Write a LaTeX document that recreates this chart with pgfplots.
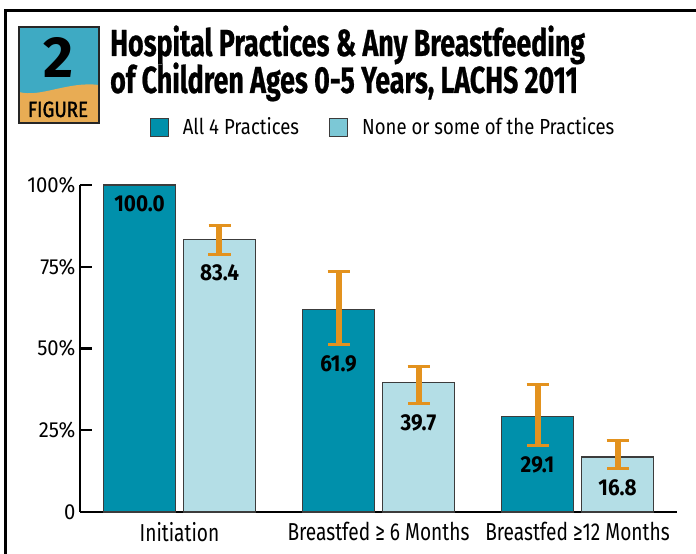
\documentclass[border=0pt]{standalone}
\usepackage{pgfplots}
\pgfplotsset{compat=1.18}
\usepackage{pgfplotstable}
\usepackage{fontspec}
\setmainfont{Fira Sans}[FakeStretch=0.78]
\newfontfamily\titlefont{Fira Sans}[FakeStretch=0.71]
\newfontfamily\legfont{Fira Sans}[FakeStretch=0.85]
\newfontfamily\tickfont{Fira Sans}[FakeStretch=0.93]
\newfontfamily\valfont{Fira Sans}[FakeStretch=0.9]
\newfontfamily\plainfont{Fira Sans}
\definecolor{darkbar}{RGB}{0,144,171}
\definecolor{lightbar}{RGB}{180,222,230}
\definecolor{leglight}{RGB}{124,200,214}
\definecolor{errc}{RGB}{227,146,30}
\definecolor{badgeteal}{RGB}{62,170,195}
\definecolor{badgeorange}{RGB}{232,172,84}
\definecolor{barline}{RGB}{60,60,60}

\pgfplotstableread{
x v
0 100.0
1 61.9
2 29.1
}\allfour
\pgfplotstableread{
x v
0 83.4
1 39.7
2 16.8
}\nonesome
\pgfplotstableread{
x y ep em
0.201 83.4 4.1 4.6
0.799 61.9 11.6 10.7
1.201 39.7 4.7 6.6
1.799 29.1 9.8 8.9
2.201 16.8 5.1 3.6
}\errs
\pgfplotstableread{
x y lab
-0.201 94.2 100.0
0.201 73.2 83.4
0.799 45.4 61.9
1.201 27.4 39.7
1.799 14.4 29.1
2.201 7.3 16.8
}\labs

\begin{document}
\begin{tikzpicture}[x=1pt,y=1pt]
\path[use as bounding box] (0,0) rectangle (696,554);
% frame
\draw[line width=3pt] (697,543) -- (5,543) -- (5,-1);
% badge
\fill[badgeteal] (19,431) rectangle (99,527);
\fill[badgeorange] (19,431) -- (19,462) .. controls (40,456) and (68,473) .. (99,469) -- (99,431) -- cycle;
\draw[line width=1.5pt, black!85] (19,431) rectangle (99,527);
\node[font=\plainfont\bfseries\fontsize{58}{58}\selectfont, inner sep=0pt] at (58.5,497) {2};
\node[font=\legfont\fontsize{22}{22}\selectfont\addfontfeature{FakeBold=1.5}, inner sep=0pt, anchor=base] at (58,437) {FIGURE};
% title
\node[font=\titlefont\bfseries\fontsize{37.7}{37.7}\selectfont\addfontfeature{FakeBold=0.6}, anchor=base west, inner sep=0pt] at (110,498) {Hospital Practices \& Any Breastfeeding};
\node[font=\titlefont\bfseries\fontsize{37.7}{37.7}\selectfont\addfontfeature{FakeBold=0.6}, anchor=base west, inner sep=0pt] at (110,461) {of Children Ages 0-5 Years, LACHS 2011};

\begin{axis}[
  at={(80pt,42pt)}, anchor=south west,
  width=597pt, height=327pt, scale only axis,
  xmin=-0.5, xmax=2.5, ymin=0, ymax=100,
  axis x line*=bottom, axis y line*=left,
  axis line style={-, line width=2.8pt},
  ytick={0,25,50,75,100},
  yticklabels={0,25\%,50\%,75\%,100\%},
  tick align=inside,
  major tick length=12pt,
  tick style={line width=2.2pt, black},
  xtick={0,1,2},
  xticklabels={Initiation, Breastfed ≥ 6 Months, Breastfed ≥12 Months},
  x tick style={draw=none},
  extra x ticks={-0.5,0.5,1.5,2.5},
  extra x tick labels={},
  extra x tick style={tick style={line width=2.2pt, black}, major tick length=7pt},
  /pgf/number format/assume math mode=true,
  yticklabel style={font=\tickfont\fontsize{21.8}{24}\selectfont, xshift=-1pt},
  xticklabel style={font=\fontsize{24.5}{26}\selectfont, yshift=-7pt},
  legend style={at={(0.5075,1.177)}, anchor=center, draw=none, fill=none,
    font=\legfont\fontsize{21.8}{24}\selectfont, legend columns=2,
    /tikz/every even column/.append style={column sep=28pt}},
  clip=false,
]
\addplot[ybar, bar width=72pt, bar shift=-40pt, fill=darkbar, draw=barline, line width=1.3pt,
  legend image code/.code={\draw[fill=darkbar, draw=barline, line width=1.2pt] (0pt,-9pt) rectangle (18pt,9pt);}]
  table[x=x,y=v] {\allfour};
\addlegendentry{\hspace*{12pt}All 4 Practices}
\addplot[ybar, bar width=72pt, bar shift=40pt, fill=lightbar, draw=barline, line width=1.3pt,
  legend image code/.code={\draw[fill=leglight, draw=barline, line width=1.2pt] (0pt,-9pt) rectangle (18pt,9pt);}]
  table[x=x,y=v] {\nonesome};
\addlegendentry{\hspace*{12pt}None or some of the Practices}
\addplot[draw=none, mark=none, forget plot,
  error bars/.cd, y dir=both, y explicit,
  error bar style={line width=6pt, errc},
  error mark options={rotate=90, line width=3pt, errc, mark size=11pt}]
  table[x=x, y=y, y error plus=ep, y error minus=em] {\errs};
\addplot[draw=none, mark=none, forget plot, nodes near coords, point meta=explicit symbolic,
  nodes near coords style={anchor=center, inner sep=0pt, font=\valfont\bfseries\fontsize{23}{23}\selectfont}]
  table[x=x, y=y, meta=lab] {\labs};
\end{axis}
\end{tikzpicture}
\end{document}
